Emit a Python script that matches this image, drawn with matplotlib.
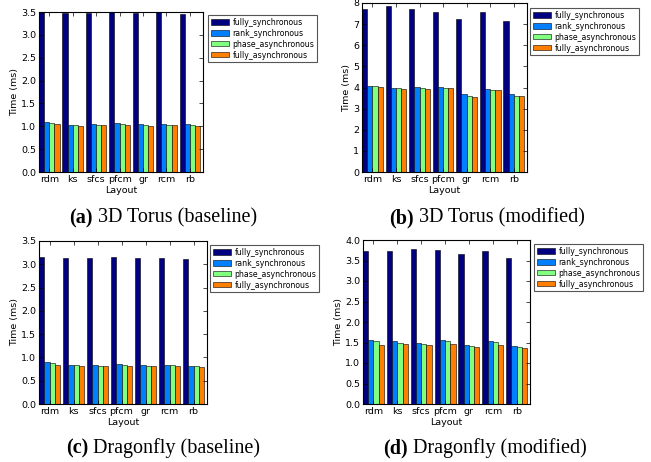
import matplotlib
matplotlib.use('Agg')
import matplotlib.pyplot as plt
import numpy as np

# ---------------- data ----------------
layouts = ['rdm', 'ks', 'sfcs', 'pfcm', 'gr', 'rcm', 'rb']
series_names = ['fully_synchronous', 'rank_synchronous',
                'phase_asynchronous', 'fully_asynchronous']
colors = ['#000080', '#0080ff', '#80ff80', '#ff8000']

# (a) 3D Torus (baseline)
torus_base_fully_sync = [3.50, 3.47, 3.48, 3.50, 3.47, 3.49, 3.45]
torus_base_rank_sync = [1.09, 1.03, 1.04, 1.07, 1.04, 1.05, 1.04]
torus_base_phase_async = [1.08, 1.02, 1.02, 1.05, 1.02, 1.03, 1.02]
torus_base_fully_async = [1.04, 1.01, 1.02, 1.02, 1.01, 1.02, 1.01]

# (b) 3D Torus (modified)
torus_mod_fully_sync = [7.70, 7.86, 7.73, 7.57, 7.22, 7.59, 7.14]
torus_mod_rank_sync = [4.05, 3.97, 4.03, 4.03, 3.68, 3.95, 3.70]
torus_mod_phase_async = [4.05, 3.97, 3.98, 4.00, 3.60, 3.90, 3.62]
torus_mod_fully_async = [4.01, 3.95, 3.95, 3.98, 3.57, 3.90, 3.60]

# (c) Dragonfly (baseline)
dfly_base_fully_sync = [3.16, 3.14, 3.14, 3.15, 3.13, 3.14, 3.11]
dfly_base_rank_sync = [0.90, 0.84, 0.84, 0.86, 0.84, 0.84, 0.82]
dfly_base_phase_async = [0.89, 0.84, 0.82, 0.84, 0.82, 0.84, 0.82]
dfly_base_fully_async = [0.84, 0.82, 0.82, 0.82, 0.82, 0.82, 0.80]

# (d) Dragonfly (modified)
dfly_mod_fully_sync = [3.72, 3.74, 3.77, 3.76, 3.65, 3.74, 3.57]
dfly_mod_rank_sync = [1.57, 1.53, 1.49, 1.57, 1.44, 1.53, 1.41]
dfly_mod_phase_async = [1.54, 1.49, 1.47, 1.54, 1.42, 1.51, 1.40]
dfly_mod_fully_async = [1.44, 1.47, 1.44, 1.47, 1.38, 1.44, 1.37]

y_ticks_a = [0.0, 0.5, 1.0, 1.5, 2.0, 2.5, 3.0, 3.5]
y_ticks_b = [0, 1, 2, 3, 4, 5, 6, 7, 8]
y_ticks_c = [0.0, 0.5, 1.0, 1.5, 2.0, 2.5, 3.0, 3.5]
y_ticks_d = [0.0, 0.5, 1.0, 1.5, 2.0, 2.5, 3.0, 3.5, 4.0]

cap_tags = ['(a)', '(b)', '(c)', '(d)']
cap_texts = ['3D Torus (baseline)', '3D Torus (modified)',
             'Dragonfly (baseline)', 'Dragonfly (modified)']

plt.rcParams['font.family'] = ['DejaVu Sans']

W, H = 651, 462
fig = plt.figure(figsize=(W / 100, H / 100), dpi=100)


def px_axes(l, r, t, b):
    return [l / W, 1 - b / H, (r - l) / W, (b - t) / H]


panels = [
    dict(rect=(39, 203, 12, 172), leg=(208, 15),
         data=[torus_base_fully_sync, torus_base_rank_sync,
               torus_base_phase_async, torus_base_fully_async],
         yticks=y_ticks_a, fmt='{:.1f}', cap=(163, 218)),
    dict(rect=(362, 527, 3, 172), leg=(530, 8),
         data=[torus_mod_fully_sync, torus_mod_rank_sync,
               torus_mod_phase_async, torus_mod_fully_async],
         yticks=y_ticks_b, fmt='{:d}', cap=(487, 218)),
    dict(rect=(39, 207, 241, 404), leg=(210, 245),
         data=[dfly_base_fully_sync, dfly_base_rank_sync,
               dfly_base_phase_async, dfly_base_fully_async],
         yticks=y_ticks_c, fmt='{:.1f}', cap=(163, 448)),
    dict(rect=(363, 530, 240, 404), leg=(534, 244),
         data=[dfly_mod_fully_sync, dfly_mod_rank_sync,
               dfly_mod_phase_async, dfly_mod_fully_async],
         yticks=y_ticks_d, fmt='{:.1f}', cap=(485, 448)),
]

bw = 0.22
x = np.arange(len(layouts))
fs_tick = 6.8
fs_leg = 5.6

for i, p in enumerate(panels):
    ax = fig.add_axes(px_axes(*p['rect']))
    for k, (vals, name, c) in enumerate(zip(p['data'], series_names, colors)):
        ax.bar(x + k * bw, vals, bw, align='edge', color=c,
               edgecolor='black', linewidth=0.4, label=name)
    ax.set_xlim(0, len(layouts))
    ax.set_ylim(p['yticks'][0], p['yticks'][-1])
    ax.set_yticks(p['yticks'])
    ax.set_yticklabels([p['fmt'].format(v) for v in p['yticks']], fontsize=fs_tick)
    ax.set_xticks(x + 2 * bw)
    ax.set_xticklabels(layouts, fontsize=fs_tick)
    ax.tick_params(direction='in', top=True, right=True, length=3, width=0.5,
                   pad=2)
    for s in ax.spines.values():
        s.set_linewidth(0.8)
    ax.set_xlabel('Layout', fontsize=fs_tick, labelpad=1.5)
    ax.set_ylabel('Time (ms)', fontsize=fs_tick, labelpad=1.5)
    lg = ax.legend(loc='upper left', bbox_to_anchor=(p['leg'][0] / W, 1 - p['leg'][1] / H),
                   bbox_transform=fig.transFigure, borderaxespad=0, fancybox=False,
                   edgecolor='#555555', framealpha=1, fontsize=fs_leg,
                   handlelength=2.3, handleheight=0.65, labelspacing=0.25,
                   borderpad=0.35, handletextpad=0.5)
    lg.get_frame().set_linewidth(0.8)

    # caption: bold tag + regular text, centred
    cx, cy = p['cap']
    tag = fig.text(0, 0, cap_tags[i], fontsize=14.5, fontweight='bold',
                   family='Liberation Serif', va='center', ha='left')
    rest = fig.text(0, 0, ' ' + cap_texts[i], fontsize=14.5,
                    family='Liberation Serif', va='center', ha='left')
    fig.canvas.draw()
    r = fig.canvas.get_renderer()
    wt = tag.get_window_extent(r).width
    wr = rest.get_window_extent(r).width
    x0 = cx - (wt + wr) / 2
    tag.set_position((x0 / W, 1 - cy / H))
    rest.set_position(((x0 + wt) / W, 1 - cy / H))

fig.savefig('out.png', dpi=100)
